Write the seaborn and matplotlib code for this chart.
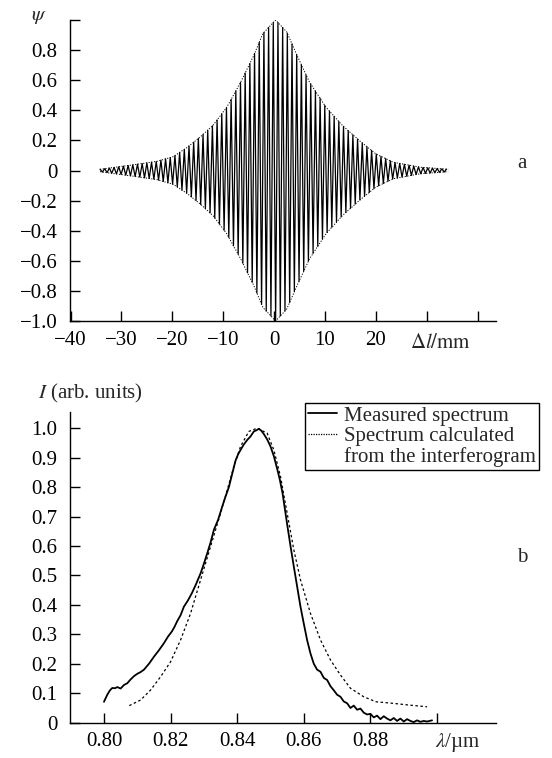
import numpy as np
import pandas as pd
import matplotlib
matplotlib.use("Agg")
import matplotlib.pyplot as plt
from matplotlib.lines import Line2D
import seaborn as sns

# ---------------- data ----------------
# (a) interferogram: envelope
env_pos = [-34.2, -29.7, -23.1, -19.8, -17.2, -14.6, -12.0, -9.3, -6.7, -4.1, -2.2,
           0.3, 2.5, 4.3, 6.9, 10.2, 13.4, 16.7, 20.0, 23.4, 28.6, 34.2]
env_amp = [0.008, 0.028, 0.06, 0.092, 0.15, 0.22, 0.30, 0.42, 0.578, 0.756, 0.91,
           1.0, 0.92, 0.78, 0.59, 0.42, 0.30, 0.20, 0.11, 0.055, 0.022, 0.008]
fringe_period = 0.92  # mm, read from the spacing of the dark fringes

# (b) spectra
meas_wl = [0.8000, 0.8010, 0.8018, 0.8025, 0.8033, 0.8040, 0.8050, 0.8060, 0.8070, 0.8080,
           0.8090, 0.8100, 0.8110, 0.8120, 0.8135, 0.8150, 0.8165, 0.8180, 0.8192, 0.8204,
           0.8212, 0.8220, 0.8230, 0.8240, 0.8252, 0.8264, 0.8277, 0.8290, 0.8300, 0.8310,
           0.8320, 0.8330, 0.8343, 0.8355, 0.8365, 0.8375, 0.8385, 0.8395, 0.8403, 0.8410,
           0.8420, 0.8430, 0.8440, 0.8450, 0.8458, 0.8465, 0.8472, 0.8480, 0.8490, 0.8500,
           0.8510, 0.8520, 0.8528, 0.8536, 0.8551, 0.8560, 0.8570, 0.8580, 0.8590, 0.8600,
           0.8610, 0.8620, 0.8630, 0.8640, 0.8650, 0.8660, 0.8670, 0.8680, 0.8690, 0.8700,
           0.8710, 0.8720, 0.8730, 0.8740, 0.8750, 0.8760, 0.8770, 0.8780, 0.8790, 0.8800,
           0.8810, 0.8820, 0.8830, 0.8840, 0.8850, 0.8860, 0.8870, 0.8880, 0.8890, 0.8900,
           0.8910, 0.8920, 0.8930, 0.8940, 0.8950, 0.8960, 0.8970, 0.8985]
meas_I = [0.071, 0.095, 0.110, 0.118, 0.117, 0.121, 0.116, 0.128, 0.134, 0.147,
          0.158, 0.166, 0.172, 0.180, 0.200, 0.224, 0.246, 0.270, 0.292, 0.310,
          0.326, 0.345, 0.365, 0.394, 0.415, 0.440, 0.472, 0.507, 0.540, 0.575,
          0.612, 0.655, 0.690, 0.734, 0.768, 0.800, 0.845, 0.890, 0.912, 0.926,
          0.945, 0.960, 0.972, 0.989, 0.993, 0.998, 0.992, 0.980, 0.962, 0.938,
          0.905, 0.862, 0.825, 0.780, 0.666, 0.600, 0.530, 0.462, 0.394, 0.336,
          0.280, 0.235, 0.200, 0.180, 0.173, 0.152, 0.145, 0.124, 0.110, 0.095,
          0.088, 0.072, 0.066, 0.050, 0.058, 0.044, 0.048, 0.034, 0.028, 0.030,
          0.018, 0.024, 0.012, 0.022, 0.014, 0.008, 0.016, 0.006, 0.014, 0.004,
          0.012, 0.006, 0.002, 0.008, 0.003, 0.006, 0.004, 0.008]

calc_wl = [0.8076, 0.811, 0.814, 0.817, 0.820, 0.823, 0.826, 0.829, 0.832, 0.835,
           0.837, 0.839, 0.841, 0.8435, 0.846, 0.849, 0.851, 0.853, 0.855, 0.857,
           0.859, 0.862, 0.865, 0.868, 0.871, 0.874, 0.878, 0.8817, 0.8866, 0.8915, 0.897]
calc_I = [0.058, 0.077, 0.111, 0.156, 0.207, 0.281, 0.371, 0.485, 0.598, 0.711,
          0.790, 0.870, 0.938, 0.989, 1.000, 0.983, 0.926, 0.836, 0.711, 0.587,
          0.485, 0.371, 0.281, 0.213, 0.162, 0.117, 0.088, 0.071, 0.066, 0.060, 0.054]

legend_labels = ["Measured spectrum", "Spectrum calculated", "from the interferogram"]

a_yticks = [-1.0, -0.8, -0.6, -0.4, -0.2, 0, 0.2, 0.4, 0.6, 0.8, 1.0]
a_ytick_labels = ["\u22121.0", "\u22120.8", "\u22120.6", "\u22120.4", "\u22120.2", "0",
                  "0.2", "0.4", "0.6", "0.8", ""]
a_xticks = [-40, -30, -20, -10, 0, 10, 20, 30, 40]
a_xtick_labels = ["\u221240", "\u221230", "\u221220", "\u221210", "0", "10", "20", "", ""]
b_yticks = [0, 0.1, 0.2, 0.3, 0.4, 0.5, 0.6, 0.7, 0.8, 0.9, 1.0]
b_ytick_labels = ["0", "0.1", "0.2", "0.3", "0.4", "0.5", "0.6", "0.7", "0.8", "0.9", "1.0"]
b_xticks = [0.80, 0.82, 0.84, 0.86, 0.88, 0.90]
b_xtick_labels = ["0.80", "0.82", "0.84", "0.86", "0.88", ""]

# ---------------- style ----------------
sns.set_theme(style="ticks")
plt.rcParams["font.family"] = ["Liberation Serif", "DejaVu Serif"]
plt.rcParams["mathtext.fontset"] = "stix"
plt.rcParams["axes.linewidth"] = 1.0
FS = 15
CALC_STYLE = (0, (2.0, 2.0))

fig = plt.figure(figsize=(5.52, 7.58), dpi=100)
ax1 = fig.add_axes([70 / 552, 1 - 321 / 758, 426 / 552, 301 / 758])
ax2 = fig.add_axes([70 / 552, 1 - 722.7 / 758, 426 / 552, 311 / 758])

# ---- (a) interferogram ----
half = fringe_period / 2
xk = np.arange(env_pos[0], env_pos[-1] + 1e-9, half)
ek = np.interp(xk, env_pos, env_amp)
sign = np.where(np.arange(len(xk)) % 2 == 0, 1.0, -1.0)
fr = pd.DataFrame({"x": xk, "y": sign * ek})
sns.lineplot(data=fr, x="x", y="y", ax=ax1, color="black", lw=0.9, sort=False,
             estimator=None)
xe = np.linspace(env_pos[0], env_pos[-1], 400)
ee = np.interp(xe, env_pos, env_amp)
for s in (1, -1):
    sns.lineplot(x=xe, y=s * ee, ax=ax1, color="black", lw=0.7,
                 linestyle=(0, (1.2, 1.6)), estimator=None)

ax1.set_xlim(-40.1, 43.6)
ax1.set_ylim(-1.0, 1.0)
ax1.set_xticks(a_xticks)
ax1.set_xticklabels(a_xtick_labels)
ax1.set_yticks(a_yticks)
ax1.set_yticklabels(a_ytick_labels)
fig.text(39 / 552, 1 - 16 / 758, r"$\psi$", ha="center", va="center", fontsize=FS)
fig.text(441 / 552, 1 - 344 / 758, r"$\Delta l/\mathrm{mm}$", ha="center", va="center",
         fontsize=FS)
fig.text(522 / 552, 1 - 163 / 758, "a", ha="center", va="center", fontsize=FS)

# ---- (b) spectra ----
sns.lineplot(x=meas_wl, y=meas_I, ax=ax2, color="black", lw=1.3, estimator=None)
sns.lineplot(x=calc_wl, y=calc_I, ax=ax2, color="black", lw=0.9, estimator=None,
             linestyle=CALC_STYLE)
ax2.set_xlim(0.7898, 0.9177)
ax2.set_ylim(0, 1.056)
ax2.set_xticks(b_xticks)
ax2.set_xticklabels(b_xtick_labels)
ax2.set_yticks(b_yticks)
ax2.set_yticklabels(b_ytick_labels)
fig.text(90 / 552, 1 - 393 / 758, r"$I$ (arb. units)", ha="center", va="center", fontsize=FS)
fig.text(458 / 552, 1 - 742 / 758, r"$\lambda$/µm", ha="center", va="center", fontsize=FS)
fig.text(522 / 552, 1 - 557 / 758, "b", ha="center", va="center", fontsize=FS)

handles = [Line2D([], [], color="black", lw=1.3),
           Line2D([], [], color="black", lw=0.9, linestyle=(0, (1.0, 1.0))),
           Line2D([], [], color="none", lw=0)]
leg = ax2.legend(handles, legend_labels, loc="upper left", bbox_to_anchor=(0.5516, 1.028),
                 frameon=True, fancybox=False, framealpha=1, edgecolor="black",
                 fontsize=FS, handlelength=1.4, handletextpad=0.3, borderpad=0.15,
                 labelspacing=0.05, borderaxespad=0)
leg.get_frame().set_linewidth(1.0)

for ax in (ax1, ax2):
    ax.set_xlabel("")
    ax.set_ylabel("")
    sns.despine(ax=ax)
    ax.tick_params(direction="in", length=7, width=1.0, labelsize=FS, colors="black")
    ax.tick_params(axis="y", pad=9)
    ax.tick_params(axis="x", pad=7)
    for sp in ax.spines.values():
        sp.set_color("black")

fig.savefig("out.png", dpi=100)
